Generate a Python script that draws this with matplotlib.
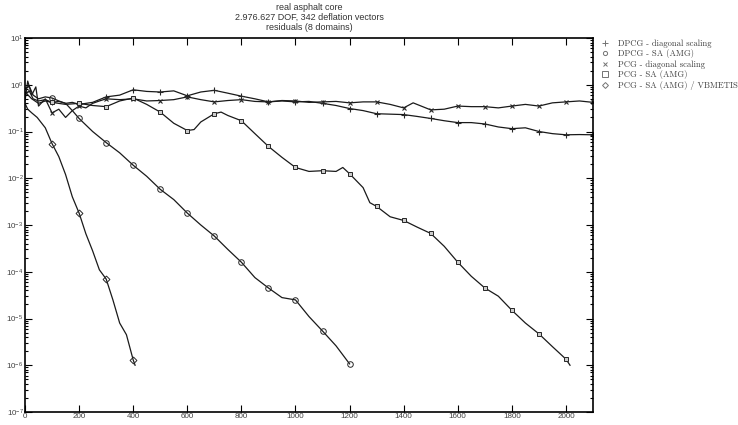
import numpy as np
import matplotlib.pyplot as plt
from matplotlib.lines import Line2D
from matplotlib.ticker import LogLocator, NullFormatter, FixedLocator

plt.rcParams['font.family'] = ['Liberation Sans', 'DejaVu Sans']
plt.rcParams['mathtext.fontset'] = 'custom'
plt.rcParams['mathtext.rm'] = 'Liberation Sans'
plt.rcParams['mathtext.it'] = 'Liberation Sans:italic'

# residual histories (iteration, residual)
it_dpcg_diag = [0, 15, 30, 50, 75, 100, 125, 150, 175, 200, 250, 300, 350, 400, 450, 500, 550,
                600, 650, 700, 750, 800, 850, 900, 950, 1000, 1050, 1100, 1150, 1200, 1250,
                1300, 1350, 1400, 1450, 1500, 1550, 1600, 1650, 1700, 1750, 1800, 1850, 1900,
                1950, 2000, 2050, 2100]
res_dpcg_diag = [0.6, 0.75, 0.5, 0.45, 0.48, 0.42, 0.44, 0.40, 0.42, 0.38, 0.42, 0.55, 0.60,
                 0.78, 0.72, 0.70, 0.74, 0.58, 0.70, 0.76, 0.66, 0.57, 0.50, 0.43, 0.45, 0.43,
                 0.44, 0.40, 0.36, 0.31, 0.28, 0.24, 0.235, 0.23, 0.21, 0.19, 0.17, 0.155,
                 0.155, 0.145, 0.125, 0.115, 0.12, 0.10, 0.09, 0.085, 0.086, 0.085]

it_dpcg_sa = [0, 15, 30, 50, 75, 100, 125, 150, 175, 200, 250, 300, 350, 400, 450, 500, 550,
              600, 650, 700, 750, 800, 850, 900, 950, 1000, 1050, 1100, 1150, 1200]
res_dpcg_sa = [0.8, 0.95, 0.6, 0.5, 0.55, 0.52, 0.45, 0.40, 0.28, 0.19, 0.10, 0.058, 0.035,
               0.019, 0.011, 0.0058, 0.0035, 0.0018, 0.001, 5.8e-4, 3.0e-4, 1.6e-4, 7.5e-5,
               4.5e-5, 2.8e-5, 2.5e-5, 1.1e-5, 5.4e-6, 2.6e-6, 1.07e-6]

it_pcg_diag = [0, 10, 25, 40, 50, 75, 100, 125, 150, 175, 200, 225, 250, 275, 300, 350, 400,
               450, 500, 550, 600, 650, 700, 750, 800, 850, 900, 950, 1000, 1050, 1100, 1150,
               1200, 1250, 1300, 1350, 1400, 1435, 1500, 1550, 1600, 1650, 1700, 1750, 1800,
               1850, 1900, 1950, 2000, 2050, 2100]
res_pcg_diag = [0.45, 1.2, 0.6, 0.9, 0.35, 0.5, 0.25, 0.3, 0.2, 0.28, 0.35, 0.32, 0.4, 0.45,
                0.5, 0.48, 0.5, 0.45, 0.46, 0.48, 0.55, 0.48, 0.43, 0.46, 0.48, 0.44, 0.43,
                0.46, 0.45, 0.42, 0.43, 0.44, 0.41, 0.43, 0.43, 0.38, 0.32, 0.41, 0.29, 0.30,
                0.35, 0.34, 0.34, 0.32, 0.35, 0.38, 0.35, 0.41, 0.43, 0.45, 0.42]

it_pcg_sa = [0, 25, 50, 75, 100, 150, 200, 250, 300, 350, 400, 450, 500, 550, 600, 625, 650,
             700, 725, 750, 800, 850, 900, 950, 1000, 1050, 1100, 1150, 1175, 1200, 1250,
             1275, 1300, 1350, 1400, 1450, 1500, 1550, 1600, 1650, 1700, 1750, 1800, 1850,
             1900, 1950, 2000, 2015]
res_pcg_sa = [0.7, 0.5, 0.4, 0.45, 0.42, 0.38, 0.40, 0.36, 0.34, 0.45, 0.52, 0.38, 0.26,
              0.15, 0.105, 0.11, 0.16, 0.24, 0.26, 0.22, 0.17, 0.09, 0.048, 0.028, 0.017,
              0.014, 0.0145, 0.014, 0.017, 0.0125, 0.0063, 0.003, 0.0025, 0.0015, 0.00125,
              9e-4, 6.6e-4, 3.5e-4, 1.6e-4, 8e-5, 4.5e-5, 3e-5, 1.5e-5, 8e-6, 4.7e-6, 2.5e-6,
              1.35e-6, 1.0e-6]

it_pcg_vb = [0, 10, 25, 45, 75, 100, 125, 150, 175, 200, 225, 250, 275, 300, 325, 350, 375,
             400, 407]
res_pcg_vb = [0.4, 0.3, 0.25, 0.2, 0.12, 0.055, 0.029, 0.012, 0.004, 0.0018, 6.5e-4, 2.8e-4,
              1.1e-4, 7e-5, 2.5e-5, 8e-6, 4.5e-6, 1.3e-6, 1.0e-6]

labels = ['DPCG - diagonal scaling', 'DPCG - SA (AMG)', 'PCG - diagonal scaling',
          'PCG - SA (AMG)', 'PCG - SA (AMG) / VBMETIS']

fig = plt.figure(figsize=(7.38, 4.25), dpi=100)
ax = fig.add_axes([25 / 738, 13 / 425, 568 / 738, 374 / 425])

series = [
    (it_dpcg_diag, res_dpcg_diag, dict(marker='+', ms=4.5, mew=0.8)),
    (it_dpcg_sa, res_dpcg_sa, dict(marker='o', ms=4, mfc='none', mew=0.7)),
    (it_pcg_diag, res_pcg_diag, dict(marker='x', ms=3.5, mew=0.8)),
    (it_pcg_sa, res_pcg_sa, dict(marker='s', ms=3.5, mfc='0.8', mew=0.7)),
    (it_pcg_vb, res_pcg_vb, dict(marker='D', ms=3.5, mfc='none', mew=0.7)),
]
for its, res, mk in series:
    its = np.array(its)
    mask = (its % 100 == 0) & (its > 0)
    ax.plot(its, res, color='0.1', lw=0.9, markevery=list(mask), mec='0.15', **mk)

ax.set_yscale('log')
ax.set_xlim(0, 2100)
ax.set_ylim(1e-7, 1e1)
ax.xaxis.set_major_locator(FixedLocator(np.arange(0, 2001, 200)))
ax.yaxis.set_major_locator(LogLocator(base=10, numticks=20))
ax.yaxis.set_minor_locator(LogLocator(base=10, subs=np.arange(2, 10), numticks=20))
ax.yaxis.set_minor_formatter(NullFormatter())
ax.tick_params(which='both', direction='in', top=True, right=True, labelsize=5.8,
               labelcolor='0.25', width=0.8, pad=1)
ax.tick_params(which='major', length=5)
ax.tick_params(which='minor', length=2.5)
for sp in ax.spines.values():
    sp.set_linewidth(1.2)

fig.text(309 / 738, 1 - 3 / 425,
         'real asphalt core\n2.976.627 DOF, 342 deflation vectors\nresiduals (8 domains)',
         ha='center', va='top', fontsize=6.5, color='0.2', linespacing=1.15)

handles = [Line2D([], [], ls='none', color='0.45', mfc='none' if m in 'osD' else '0.45',
                  marker=m, ms=s, mew=0.7)
           for m, s in zip(['+', 'o', 'x', 's', 'D'], [5, 3, 3.5, 5, 3])]
fig.legend(handles, labels, loc='upper left', bbox_to_anchor=(596 / 738, 1 - 35 / 425),
           frameon=False, prop={'family': ['cmr10', 'DejaVu Serif'], 'size': 6.2},
           handlelength=1.2, handletextpad=0.9, labelspacing=0.2, borderpad=0,
           labelcolor='0.25')

fig.savefig('out.png', dpi=100)
